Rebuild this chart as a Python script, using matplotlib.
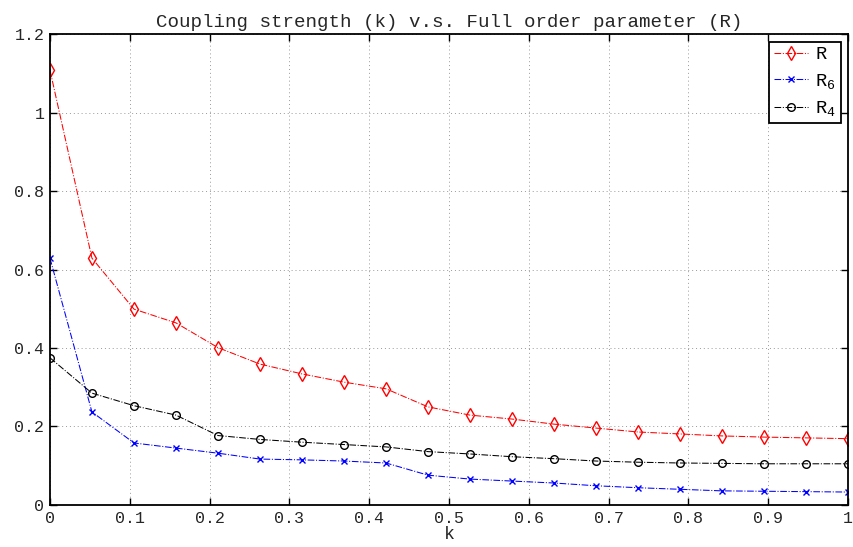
import matplotlib
matplotlib.use('Agg')
import matplotlib.pyplot as plt

plt.rcParams['font.family'] = ['Liberation Mono', 'DejaVu Sans Mono']
plt.rcParams['mathtext.fontset'] = 'custom'
plt.rcParams['mathtext.rm'] = 'Liberation Mono'
plt.rcParams['mathtext.it'] = 'Liberation Mono'

# coupling strength values
k = [0.0, 0.0526, 0.1053, 0.1579, 0.2105, 0.2632, 0.3158, 0.3684, 0.4211, 0.4737,
     0.5263, 0.5789, 0.6316, 0.6842, 0.7368, 0.7895, 0.8421, 0.8947, 0.9474, 1.0]

# order parameters
R = [1.108, 0.629, 0.499, 0.464, 0.401, 0.359, 0.334, 0.313, 0.296, 0.250,
     0.229, 0.219, 0.206, 0.196, 0.186, 0.181, 0.176, 0.173, 0.171, 0.169]
R6 = [0.629, 0.237, 0.158, 0.145, 0.132, 0.117, 0.115, 0.112, 0.107, 0.076,
      0.066, 0.061, 0.056, 0.049, 0.044, 0.040, 0.036, 0.035, 0.034, 0.033]
R4 = [0.375, 0.285, 0.253, 0.229, 0.177, 0.167, 0.160, 0.154, 0.148, 0.136,
      0.130, 0.123, 0.118, 0.112, 0.109, 0.107, 0.106, 0.105, 0.105, 0.105]

fig = plt.figure(figsize=(8.54, 5.47), dpi=100)
ax = fig.add_axes([0.0585, 0.0768, 0.9345, 0.861])

ax.plot(k, R, color='red', linestyle='-.', linewidth=0.75, marker='d',
        markersize=7.5, markerfacecolor='none', markeredgecolor='red', label='R')
ax.plot(k, R6, color='blue', linestyle='-.', linewidth=0.75, marker='x',
        markersize=4, markeredgecolor='blue', label='R$_6$')
ax.plot(k, R4, color='black', linestyle='-.', linewidth=0.75, marker='o',
        markersize=5.5, markerfacecolor='none', markeredgecolor='black', label='R$_4$')

ax.set_xlim(0, 1)
ax.set_ylim(0, 1.2)
ax.set_xticks([0, 0.1, 0.2, 0.3, 0.4, 0.5, 0.6, 0.7, 0.8, 0.9, 1])
ax.set_xticklabels(['0', '0.1', '0.2', '0.3', '0.4', '0.5', '0.6', '0.7', '0.8', '0.9', '1'])
ax.set_yticks([0, 0.2, 0.4, 0.6, 0.8, 1.0, 1.2])
ax.set_yticklabels(['0', '0.2', '0.4', '0.6', '0.8', '1', '1.2'])
ax.tick_params(direction='in', top=True, right=True, labelsize=12, length=5, width=1,
               labelcolor='#262626', pad=4)
for s in ax.spines.values():
    s.set_linewidth(1.3)

ax.grid(True, linestyle=(0, (1, 3)), color='#999999', linewidth=0.7)

ax.set_title('Coupling strength (k) v.s. Full order parameter (R)', fontsize=13.8,
             pad=5, color='#262626')
ax.set_xlabel('k', fontsize=13, labelpad=0, color='#262626')

leg = ax.legend(loc='upper right', fontsize=13.5, fancybox=False, framealpha=1,
                edgecolor='black', handlelength=1.8, borderpad=0.25,
                labelspacing=0.45, handletextpad=0.4, borderaxespad=0.4)
leg.get_frame().set_linewidth(1.3)

fig.savefig('out.png', dpi=100)
